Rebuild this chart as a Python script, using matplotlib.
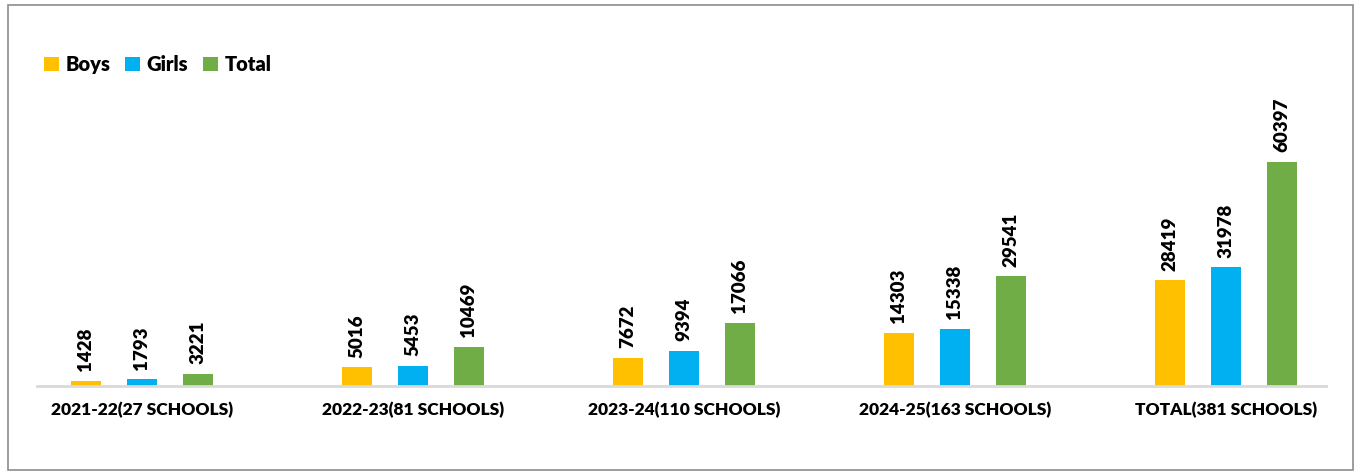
import matplotlib.pyplot as plt
import numpy as np

categories = ['2021-22(27 SCHOOLS)', '2022-23(81 SCHOOLS)', '2023-24(110 SCHOOLS)',
              '2024-25(163 SCHOOLS)', 'TOTAL(381 SCHOOLS)']
boys = [1428, 5016, 7672, 14303, 28419]
girls = [1793, 5453, 9394, 15338, 31978]
total = [3221, 10469, 17066, 29541, 60397]

plt.rcParams['font.family'] = ['Lato', 'DejaVu Sans']

fig = plt.figure(figsize=(13.61, 4.73), dpi=100)
W, H = 1361, 473
# axes placed in pixel coords: left 37, right 1326, bottom 386, top 126
ax = fig.add_axes([37 / W, 1 - 386 / H, (1326 - 37) / W, (386 - 126) / H])

x = np.arange(len(categories))
off = 0.2066
bw = 0.111
series = [('Boys', boys, '#FFC000', -off), ('Girls', girls, '#00B0F0', 0),
          ('Total', total, '#70AD47', off)]
for name, vals, col, dx in series:
    bars = ax.bar(x + dx, vals, bw, color=col, label=name, zorder=2)
    for b, v in zip(bars, vals):
        ax.annotate(str(v), (b.get_x() + b.get_width() / 2, b.get_height()),
                    xytext=(0, 7), textcoords='offset points', rotation=90,
                    ha='center', va='bottom', fontsize=13.5, fontweight='heavy')

ax.set_xlim(-0.387, 4.369)
ax.set_ylim(0, 70000)
ax.set_xticks(x)
ax.set_xticklabels(categories, fontsize=12.5, fontweight='heavy')
ax.tick_params(axis='x', length=0, pad=11)
ax.set_yticks([])
for s in ['top', 'right', 'left']:
    ax.spines[s].set_visible(False)
ax.spines['bottom'].set_color('#d9d9d9')
ax.spines['bottom'].set_linewidth(2)

leg = fig.legend(loc='upper left', bbox_to_anchor=(26 / W, 1 - 37 / H), ncol=3,
                 frameon=False, prop={'size': 14.5, 'weight': 'heavy'},
                 handlelength=0.75, handleheight=0.75, handletextpad=0.3,
                 columnspacing=0.75)

# outer border
fig.patches.append(plt.Rectangle((8 / W, 3 / H), (1353 - 8) / W, (468 - 3) / H,
                                 transform=fig.transFigure, fill=False,
                                 edgecolor='#8c8c8c', linewidth=1.2))

fig.savefig('out.png', dpi=100)
